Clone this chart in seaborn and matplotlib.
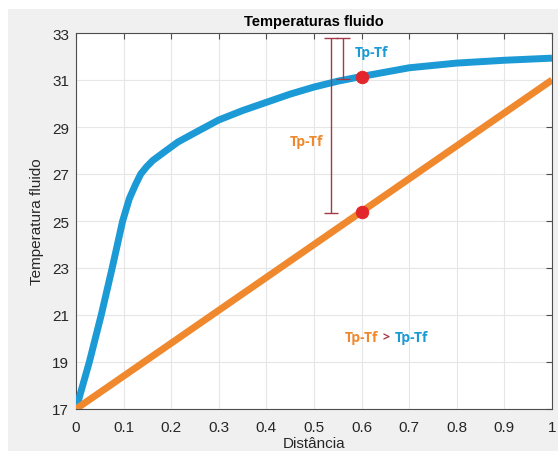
import numpy as np
import pandas as pd
import matplotlib
matplotlib.use("Agg")
import matplotlib.pyplot as plt
from matplotlib.patches import Rectangle
import seaborn as sns

# Data
dist_blue = [0, 0.028, 0.053, 0.076, 0.098, 0.112, 0.125, 0.136, 0.148, 0.161, 0.185,
             0.214, 0.253, 0.3, 0.35, 0.4, 0.45, 0.5, 0.55, 0.6, 0.7, 0.8, 0.9, 1.0]
temp_blue = [17, 19, 21, 23, 25, 25.95, 26.55, 27.0, 27.3, 27.57, 27.93,
             28.36, 28.79, 29.3, 29.7, 30.05, 30.4, 30.7, 30.95, 31.15, 31.52, 31.72, 31.84, 31.93]
dist_orange = [0, 1.0]
temp_orange = [17, 31]
dot_x = [0.6, 0.6]
dot_y = [31.12, 25.4]
bar_x = [0.536, 0.56]
bar_lo = [25.35, 31.05]
bar_hi = [32.8, 32.8]
xticks = [0, 0.1, 0.2, 0.3, 0.4, 0.5, 0.6, 0.7, 0.8, 0.9, 1]
xticklabels = ["0", "0.1", "0.2", "0.3", "0.4", "0.5", "0.6", "0.7", "0.8", "0.9", "1"]
yticks = [17, 19, 21, 23, 25, 27, 29, 31, 33]

BLUE = "#1b9ad6"
ORANGE = "#f0882e"
RED = "#e3262b"
MAROON = "#a33a45"

sns.set_style("whitegrid")
plt.rcParams["font.family"] = ["Liberation Sans", "DejaVu Sans"]

fig = plt.figure(figsize=(5.58, 4.52), dpi=100, facecolor="white")
fig.patches.append(Rectangle((8 / 558, 0), 1, 1 - 10 / 452, transform=fig.transFigure,
                             facecolor="#f0f0f0", edgecolor="none", zorder=-10))
ax = fig.add_axes([76 / 558, 1 - 410 / 452, 476 / 558, 376 / 452])
ax.set_facecolor("white")

df_b = pd.DataFrame({"x": dist_blue, "y": temp_blue})
df_o = pd.DataFrame({"x": dist_orange, "y": temp_orange})
sns.lineplot(data=df_b, x="x", y="y", ax=ax, color=BLUE, linewidth=5, zorder=3,
             solid_capstyle="butt", solid_joinstyle="round")
sns.lineplot(data=df_o, x="x", y="y", ax=ax, color=ORANGE, linewidth=5, zorder=3,
             solid_capstyle="butt")
sns.scatterplot(x=dot_x, y=dot_y, ax=ax, color=RED, s=80, edgecolor=RED, zorder=5)

for bx, lo, hi in zip(bar_x, bar_lo, bar_hi):
    ax.errorbar([bx], [(lo + hi) / 2], yerr=[[(hi - lo) / 2], [(hi - lo) / 2]],
                fmt="none", ecolor=MAROON, elinewidth=1, capsize=5, capthick=1, zorder=4)

tfont = ["Open Sans", "DejaVu Sans"]
ax.text(0.62, 32.2, "Tp-Tf", color=BLUE, fontsize=10, fontweight="bold",
        family=tfont, ha="center", va="center", zorder=6)
ax.text(0.484, 28.4, "Tp-Tf", color=ORANGE, fontsize=10, fontweight="bold",
        family=tfont, ha="center", va="center", zorder=6)
ax.text(0.600, 20.07, "Tp-Tf", color=ORANGE, fontsize=10, fontweight="bold",
        family=tfont, ha="center", va="center", zorder=6)
ax.text(0.652, 20.07, ">", color=MAROON, fontsize=9, fontweight="bold",
        family=tfont, ha="center", va="center", zorder=6)
ax.text(0.705, 20.07, "Tp-Tf", color=BLUE, fontsize=10, fontweight="bold",
        family=tfont, ha="center", va="center", zorder=6)

ax.set_xlim(0, 1)
ax.set_ylim(17, 33)
ax.set_xticks(xticks)
ax.set_xticklabels(xticklabels)
ax.set_yticks(yticks)
ax.grid(True, color="#e6e6e6", linewidth=0.8)
ax.tick_params(direction="in", length=4, color="#4d4d4d", labelsize=11,
               labelcolor="#262626", top=True, right=True, labeltop=False,
               labelright=False)
ax.tick_params(axis="x", pad=8)
ax.tick_params(axis="y", pad=5)
for s in ax.spines.values():
    s.set_color("#4d4d4d")
    s.set_linewidth(0.8)
ax.set_xlabel("Distância", fontsize=11, color="#262626", labelpad=1.5)
ax.set_ylabel("Temperatura fluido", fontsize=11, color="#262626", labelpad=6)
ax.set_title("Temperaturas fluido", fontsize=10.5, fontweight="bold", color="black", pad=6)

fig.savefig("out.png", dpi=100, facecolor=fig.get_facecolor())
